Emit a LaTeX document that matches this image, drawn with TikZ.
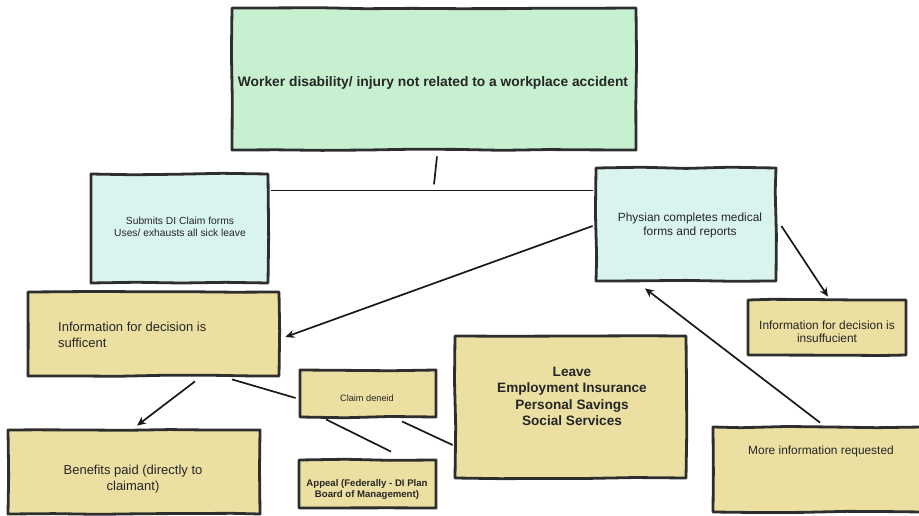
\documentclass[tikz,border=0pt]{standalone}
\usepackage{fontspec}
\setmainfont{Liberation Sans}
\usetikzlibrary{arrows.meta,decorations.pathmorphing}
\definecolor{ink}{HTML}{2E2E2E}
\definecolor{mint}{HTML}{C6F0CF}
\definecolor{aqua}{HTML}{D9F3EF}
\definecolor{sand}{HTML}{EBDFA1}
\pgfmathsetseed{7}
\tikzset{
  box/.style={draw=ink, line width=2.8pt, line join=round, inner sep=0pt,
    decorate, decoration={random steps, segment length=45pt, amplitude=0.8pt}},
  topbox/.style={box, fill=mint},
  bluebox/.style={box, fill=aqua},
  sandbox/.style={box, fill=sand},
  txt/.style={align=center, inner sep=0pt, text=black!85},
  link/.style={draw=black!90, line width=1.7pt},
  arrowlink/.style={link, -{Stealth[length=9pt,width=8pt]}},
}
\begin{document}
\begin{tikzpicture}[x=1pt,y=-1pt]
\useasboundingbox (0,0) rectangle (919,516);

% boxes
\node[topbox, minimum width=404pt, minimum height=142pt] (top) at (434,79) {};
\node[bluebox, minimum width=177pt, minimum height=109pt] (sub) at (179.5,228.5) {};
\node[bluebox, minimum width=180pt, minimum height=113pt] (phys) at (686,224.5) {};
\node[sandbox, minimum width=251pt, minimum height=84pt] (suff) at (153.5,334) {};
\node[sandbox, minimum width=158pt, minimum height=55pt] (insuff) at (827,327.5) {};
\node[sandbox, minimum width=136pt, minimum height=47pt] (claim) at (368,393.5) {};
\node[sandbox, minimum width=231pt, minimum height=142pt] (leave) at (570.5,407) {};
\node[sandbox, minimum width=252pt, minimum height=84pt] (ben) at (134,472) {};
\node[sandbox, minimum width=137pt, minimum height=48pt] (appeal) at (367.5,484) {};
\node[sandbox, minimum width=209pt, minimum height=85pt] (more) at (817.5,469.5) {};

% texts
\node[txt, font=\fontsize{13.8}{16}\selectfont\bfseries] (topt) at (433,83)
  {Worker disability/ injury not related to a workplace accident};
\node[txt, font=\fontsize{10.3}{12.5}\selectfont] (subt) at (180,227)
  {Submits DI Claim forms\\Uses/ exhausts all sick leave};
\node[txt, font=\fontsize{11.9}{14}\selectfont] (physt) at (690,225)
  {Physian completes medical\\forms and reports};
\node[txt, align=left, anchor=west, font=\fontsize{13}{16}\selectfont] (sufft) at (58,335)
  {Information for decision is\\sufficent};
\node[txt, font=\fontsize{11.9}{13.5}\selectfont] (insufft) at (827,331.5)
  {Information for decision is\\insuffucient};
\node[txt, font=\fontsize{9.2}{11}\selectfont] (claimt) at (367,398) {Claim deneid};
\node[txt, font=\fontsize{13.6}{16.5}\selectfont\bfseries] (leavet) at (572,396.5)
  {Leave\\Employment Insurance\\Personal Savings\\Social Services};
\node[txt, font=\fontsize{13}{16}\selectfont] (bent) at (133,479)
  {Benefits paid (directly to\\claimant)};
\node[txt, font=\fontsize{9.6}{11.5}\selectfont\bfseries] (appealt) at (367,489.5)
  {Appeal (Federally - DI Plan\\Board of Management)};
\node[txt, font=\fontsize{11.9}{14}\selectfont] (moret) at (821,451)
  {More information requested};

% connectors
\draw[link] ([xshift=3pt,yshift=-5pt]top.south) -- ([yshift=-33pt]top.south);
\draw[link] ([xshift=2pt,yshift=-18pt]sub.north east) -- ([xshift=-2pt,yshift=-24pt]phys.north west);
\draw[arrowlink] ([xshift=-2pt,yshift=-1.5pt]phys.west) -- ([xshift=5pt,yshift=-3pt]suff.east);
\draw[arrowlink] ([xshift=4pt,yshift=-1.5pt]phys.east) -- ([xshift=1pt,yshift=2pt]insuff.north);
\draw[arrowlink] ([xshift=2.5pt,yshift=3pt]more.north) -- ([xshift=-41pt,yshift=-6pt]phys.south);
\draw[arrowlink] ([xshift=41.5pt,yshift=-4pt]suff.south) -- ([xshift=3pt,yshift=3pt]ben.north);
\draw[link] ([xshift=78.5pt,yshift=-2pt]suff.south) -- ([xshift=-3pt,yshift=-4.5pt]claim.west);
\draw[link] ([xshift=-42pt,yshift=-1pt]claim.south) -- ([xshift=23.5pt,yshift=7pt]appeal.north);
\draw[link] ([xshift=34pt,yshift=-3pt]claim.south) -- ([xshift=-1pt,yshift=-38pt]leave.west);
\end{tikzpicture}
\end{document}
